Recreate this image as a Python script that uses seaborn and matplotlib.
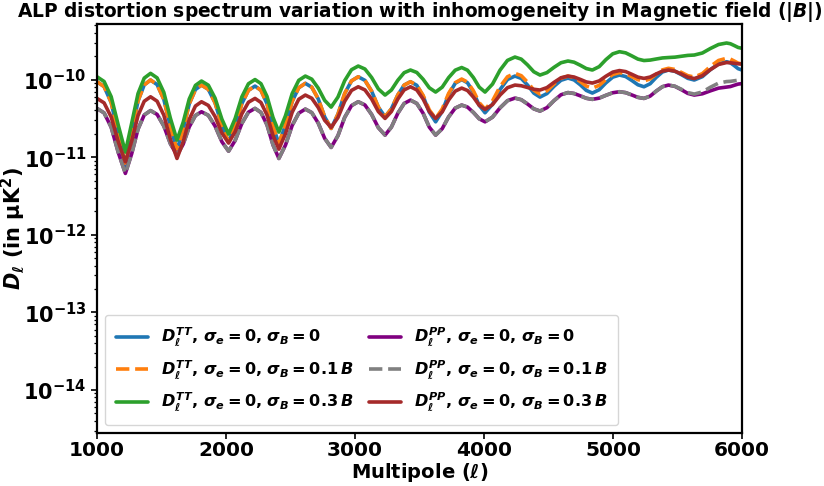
import numpy as np
import matplotlib
matplotlib.use("Agg")
import matplotlib.pyplot as plt
import seaborn as sns

# Multipole values (shared x grid)
ell = [1000, 1055, 1110, 1165, 1220, 1269, 1318, 1366, 1415, 1466, 1518, 1569, 1620, 1668, 1715, 1763,
       1810, 1863, 1915, 1968, 2020, 2071, 2123, 2174, 2225, 2271, 2318, 2364, 2410, 2461, 2513, 2564,
       2615, 2665, 2715, 2765, 2815, 2868, 2920, 2973, 3025, 3077, 3129, 3181, 3233, 3282, 3332, 3381,
       3430, 3479, 3528, 3576, 3625, 3676, 3726, 3777, 3827, 3872, 3918, 3963, 4008, 4066, 4124, 4182,
       4240, 4289, 4337, 4386, 4434, 4488, 4543, 4597, 4651, 4698, 4746, 4793, 4840, 4893, 4945, 4998,
       5050, 5098, 5145, 5193, 5240, 5288, 5335, 5383, 5430, 5480, 5530, 5580, 5630, 5693, 5755, 5818,
       5880, 5910, 5940, 5970, 6000]

# D_ell in units of 1e-11 muK^2
tt_sb0 = [9.376, 8.112, 5.048, 1.985, 0.721, 2.056, 5.292, 8.528,
          9.863, 8.603, 5.546, 2.490, 1.230, 2.290, 4.861, 7.432,
          8.492, 7.480, 5.027, 2.575, 1.563, 2.538, 4.902, 7.266,
          8.241, 7.257, 4.872, 2.487, 1.503, 2.588, 5.218, 7.848,
          8.933, 7.971, 5.638, 3.306, 2.344, 3.587, 6.602, 9.617,
          10.86, 9.758, 7.085, 4.413, 3.311, 4.196, 6.344, 8.491,
          9.376, 8.423, 6.113, 3.804, 2.851, 3.895, 6.426, 8.956,
          10.00, 9.085, 6.866, 4.648, 3.733, 4.807, 7.412, 10.016,
          11.09, 10.339, 8.516, 6.694, 5.943, 6.601, 8.197, 9.792,
          10.45, 9.902, 8.574, 7.247, 6.699, 7.390, 9.065, 10.739,
          11.43, 10.940, 9.751, 8.562, 8.072, 8.831, 10.671, 12.511,
          13.27, 12.773, 11.566, 10.360, 9.863, 10.902, 13.422, 15.941,
          16.98, 16.438, 15.125, 13.812, 13.27]

tt_sb01 = [9.376, 8.122, 5.082, 2.043, 0.789, 2.114, 5.326, 8.538,
           9.863, 8.603, 5.546, 2.490, 1.230, 2.290, 4.861, 7.432,
           8.492, 7.480, 5.027, 2.575, 1.563, 2.538, 4.902, 7.266,
           8.241, 7.257, 4.872, 2.487, 1.503, 2.588, 5.218, 7.848,
           8.933, 7.971, 5.638, 3.306, 2.344, 3.587, 6.602, 9.617,
           10.86, 9.758, 7.085, 4.413, 3.311, 4.196, 6.344, 8.491,
           9.376, 8.468, 6.265, 4.063, 3.155, 4.175, 6.648, 9.120,
           10.14, 9.267, 7.149, 5.032, 4.159, 5.307, 8.090, 10.872,
           12.02, 11.214, 9.260, 7.307, 6.501, 7.171, 8.796, 10.420,
           11.09, 10.604, 9.426, 8.248, 7.762, 8.425, 10.031, 11.637,
           12.30, 11.902, 10.936, 9.970, 9.572, 10.213, 11.766, 13.319,
           13.96, 13.493, 12.360, 11.227, 10.76, 11.932, 14.775, 17.618,
           18.79, 18.361, 17.320, 16.279, 15.85]

tt_sb03 = [10.86, 9.444, 6.010, 2.577, 1.161, 2.746, 6.591, 10.435,
           12.02, 10.507, 6.838, 3.169, 1.656, 2.811, 5.613, 8.415,
           9.57, 8.462, 5.776, 3.090, 1.982, 3.153, 5.991, 8.829,
           10.00, 8.847, 6.052, 3.257, 2.104, 3.416, 6.597, 9.778,
           11.09, 10.116, 7.753, 5.390, 4.416, 5.951, 9.673, 13.395,
           14.93, 13.671, 10.620, 7.569, 6.310, 7.326, 9.790, 12.254,
           13.27, 12.340, 10.086, 7.832, 6.902, 7.981, 10.596, 13.211,
           14.29, 13.211, 10.596, 7.981, 6.902, 8.741, 13.201, 17.661,
           19.50, 18.322, 15.465, 12.608, 11.43, 12.293, 14.385, 16.477,
           17.34, 16.746, 15.305, 13.864, 13.27, 14.670, 18.065, 21.460,
           22.86, 22.089, 20.220, 18.351, 17.58, 17.821, 18.405, 18.989,
           19.23, 19.445, 19.965, 20.485, 20.70, 21.996, 25.140, 28.284,
           29.58, 28.954, 27.435, 25.916, 25.29]

pp_sb0 = [4.246, 3.716, 2.431, 1.147, 0.617, 1.108, 2.299, 3.490,
          3.981, 3.555, 2.521, 1.488, 1.062, 1.468, 2.454, 3.440,
          3.846, 3.459, 2.520, 1.581, 1.194, 1.640, 2.720, 3.800,
          4.246, 3.767, 2.604, 1.441, 0.962, 1.429, 2.561, 3.692,
          4.159, 3.747, 2.746, 1.746, 1.334, 1.895, 3.255, 4.615,
          5.176, 4.701, 3.549, 2.398, 1.923, 2.435, 3.678, 4.921,
          5.433, 4.921, 3.678, 2.435, 1.923, 2.327, 3.306, 4.284,
          4.688, 4.420, 3.769, 3.119, 2.851, 3.277, 4.310, 5.342,
          5.768, 5.499, 4.847, 4.195, 3.926, 4.344, 5.359, 6.374,
          6.792, 6.612, 6.175, 5.739, 5.559, 5.764, 6.263, 6.761,
          6.966, 6.783, 6.340, 5.898, 5.715, 6.120, 7.104, 8.087,
          8.492, 8.173, 7.401, 6.629, 6.310, 6.556, 7.154, 7.752,
          7.998, 8.126, 8.435, 8.744, 8.872]

pp_sb01 = [4.246, 3.716, 2.431, 1.147, 0.617, 1.108, 2.299, 3.490,
           3.981, 3.555, 2.521, 1.488, 1.062, 1.468, 2.454, 3.440,
           3.846, 3.459, 2.520, 1.581, 1.194, 1.640, 2.720, 3.800,
           4.246, 3.767, 2.604, 1.441, 0.962, 1.429, 2.561, 3.692,
           4.159, 3.747, 2.746, 1.746, 1.334, 1.895, 3.255, 4.615,
           5.176, 4.701, 3.549, 2.398, 1.923, 2.435, 3.678, 4.921,
           5.433, 4.921, 3.678, 2.435, 1.923, 2.327, 3.306, 4.284,
           4.688, 4.420, 3.769, 3.119, 2.851, 3.277, 4.310, 5.342,
           5.768, 5.499, 4.847, 4.195, 3.926, 4.344, 5.359, 6.374,
           6.792, 6.612, 6.175, 5.739, 5.559, 5.764, 6.263, 6.761,
           6.966, 6.783, 6.340, 5.898, 5.715, 6.120, 7.104, 8.087,
           8.492, 8.201, 7.496, 6.792, 6.501, 6.927, 7.960, 8.993,
           9.419, 9.484, 9.641, 9.798, 9.863]

pp_sb03 = [5.715, 5.007, 3.292, 1.577, 0.869, 1.618, 3.434, 5.249,
           5.998, 5.263, 3.480, 1.697, 0.962, 1.577, 3.069, 4.561,
           5.176, 4.642, 3.346, 2.051, 1.517, 2.130, 3.616, 5.102,
           5.715, 5.066, 3.491, 1.917, 1.268, 2.004, 3.789, 5.574,
           6.310, 5.741, 4.362, 2.984, 2.415, 3.241, 5.244, 7.246,
           8.072, 7.354, 5.613, 3.873, 3.155, 3.873, 5.613, 7.354,
           8.072, 7.354, 5.613, 3.873, 3.155, 3.828, 5.459, 7.089,
           7.762, 7.230, 5.941, 4.653, 4.121, 4.759, 6.307, 7.854,
           8.492, 8.322, 7.910, 7.498, 7.328, 7.877, 9.209, 10.541,
           11.09, 10.787, 10.053, 9.319, 9.016, 9.606, 11.038, 12.470,
           13.06, 12.664, 11.705, 10.746, 10.35, 10.776, 11.810, 12.844,
           13.27, 12.836, 11.785, 10.734, 10.30, 11.214, 13.430, 15.646,
           16.56, 16.456, 16.205, 15.954, 15.85]

labels = [r'$D_\ell^{TT}$, $\sigma_e = 0$, $\sigma_B = 0$',
          r'$D_\ell^{TT}$, $\sigma_e = 0$, $\sigma_B = 0.1\,B$',
          r'$D_\ell^{TT}$, $\sigma_e = 0$, $\sigma_B = 0.3\,B$',
          r'$D_\ell^{PP}$, $\sigma_e = 0$, $\sigma_B = 0$',
          r'$D_\ell^{PP}$, $\sigma_e = 0$, $\sigma_B = 0.1\,B$',
          r'$D_\ell^{PP}$, $\sigma_e = 0$, $\sigma_B = 0.3\,B$']

UNIT = 1e-11

sns.set_style("ticks")
plt.rcParams.update({
    "font.family": ["DejaVu Sans"],
    "font.weight": "bold",
    "axes.labelweight": "bold",
    "axes.titleweight": "bold",
    "mathtext.fontset": "custom",
    "mathtext.rm": "DejaVu Sans:bold",
    "mathtext.bf": "DejaVu Sans:bold",
    "mathtext.sf": "DejaVu Sans:bold",
    "mathtext.it": "DejaVu Sans:bold:italic",
    "axes.edgecolor": "black",
    "xtick.color": "black",
    "ytick.color": "black",
    "text.color": "black",
    "axes.labelcolor": "black",
})

fig = plt.figure(figsize=(8.24, 4.86), dpi=100)
ax = fig.add_axes([97 / 824, 1 - 433 / 486, 645 / 824, 409 / 486])

x = np.array(ell)
series = [
    (tt_sb0, "#1f77b4", "-"),
    (tt_sb01, "#ff7f0e", "--"),
    (tt_sb03, "#2ca02c", "-"),
    (pp_sb0, "purple", "-"),
    (pp_sb01, "grey", "--"),
    (pp_sb03, "brown", "-"),
]
for (vals, col, ls), lab in zip(series, labels):
    sns.lineplot(x=x, y=np.array(vals) * UNIT, color=col, linestyle=ls,
                 linewidth=2.6, label=lab, ax=ax)

ax.set_yscale("log")
ax.set_xlim(1000, 6000)
ax.set_ylim(10 ** -14.555, 10 ** -9.284)
ax.set_xticks([1000, 2000, 3000, 4000, 5000, 6000])
ax.tick_params(axis="y", which="major", labelsize=15, width=1.2, length=4)
ax.tick_params(axis="x", which="major", labelsize=14.5, width=1.2, length=4, pad=2)
ax.tick_params(axis="y", which="minor", width=0.9, length=2.5)
for s in ax.spines.values():
    s.set_linewidth(1.6)
    s.set_color("black")

ax.set_xlabel(r"Multipole ($\ell$)", fontsize=14)
ax.xaxis.set_label_coords(0.5, -0.068)
ax.set_ylabel(r"$D_\ell$ (in μK$^2$)", fontsize=15)
ax.yaxis.set_label_coords(-0.108, 0.5)
ax.set_title(r"ALP distortion spectrum variation with inhomogeneity in Magnetic field ($|B|$)",
             fontsize=13.4, pad=3.5)

ax.legend(ncol=2, loc="lower left", fontsize=11.6, handlelength=2.0,
          columnspacing=1.0, labelspacing=0.6, borderpad=0.65, borderaxespad=0.5)

fig.savefig("out.png", dpi=100)
